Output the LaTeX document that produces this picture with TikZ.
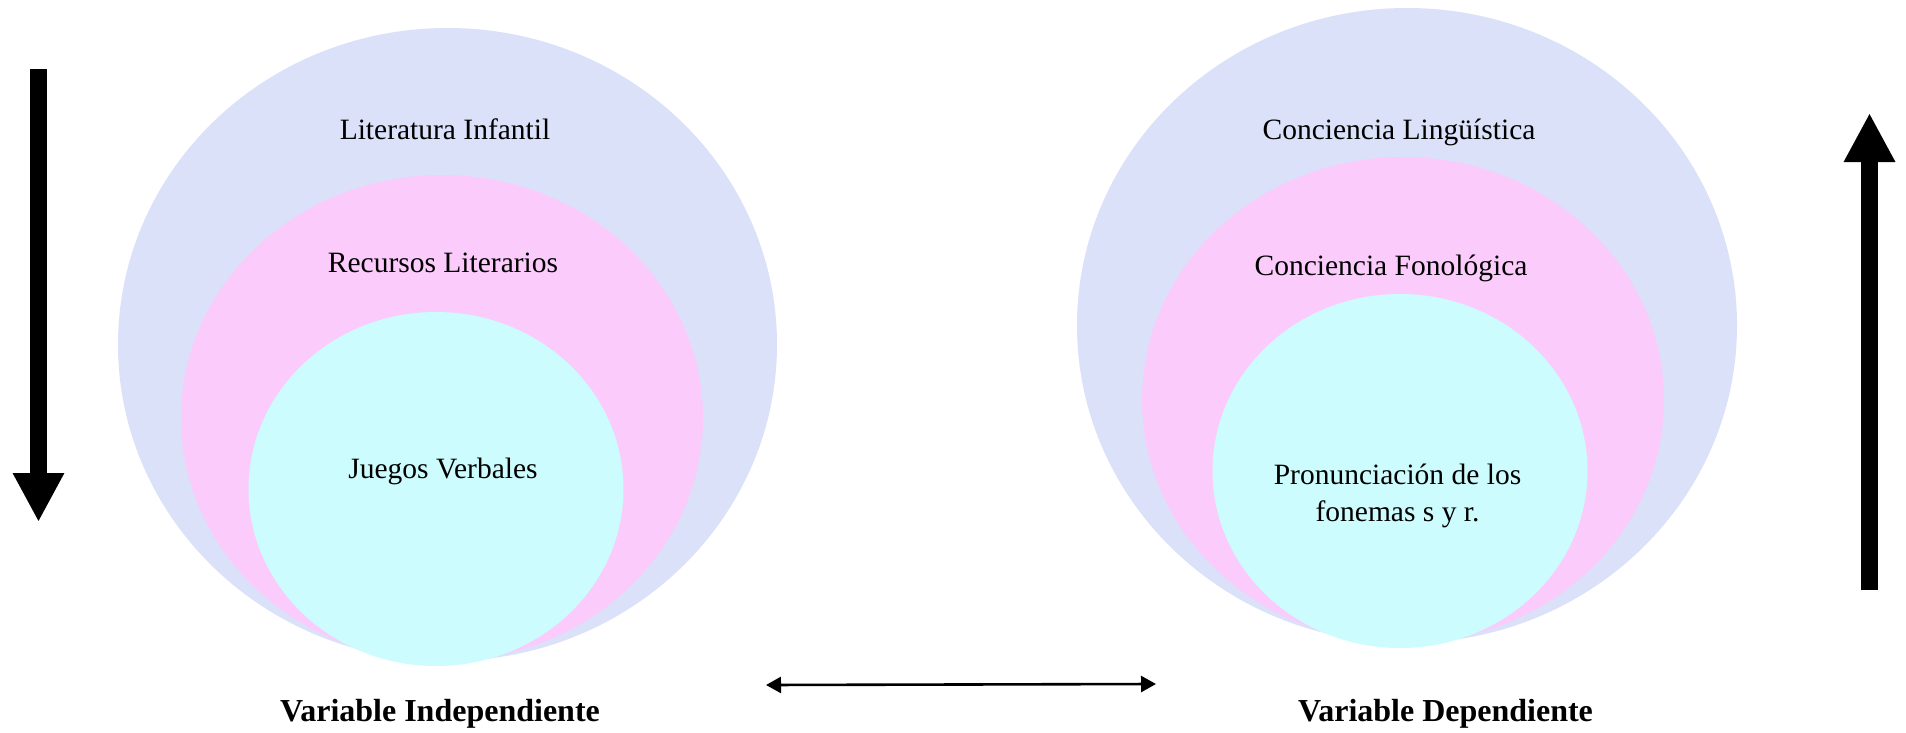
\documentclass[tikz,border=0pt]{standalone}
\usepackage{fontspec}
\setmainfont{Liberation Serif}
\usetikzlibrary{arrows.meta,shapes.geometric}
\definecolor{cblue}{HTML}{DAE1F8}
\definecolor{cpink}{HTML}{FBCCFB}
\definecolor{ccyan}{HTML}{CCFCFD}
\tikzset{
  ell/.style={ellipse, inner sep=0pt, draw=none},
  lbl/.style={anchor=base, inner sep=0pt, font=\fontsize{29.5}{37}\selectfont, align=center},
  vlbl/.style={anchor=base, inner sep=0pt, font=\fontsize{32}{38}\selectfont\bfseries},
  bigarrow/.style={line width=16.5pt, -{Triangle[width=48pt,length=49pt]}},
  dblarrow/.style={line width=2.6pt, {Triangle[width=16pt,length=15pt]}-{Triangle[width=16pt,length=15pt]}}
}
\begin{document}
\begin{tikzpicture}[x=1pt,y=-1pt]
\useasboundingbox (0,0) rectangle (1906,733);
% left group
\node[ell, fill=cblue, minimum width=659pt, minimum height=633pt] (L1) at (447.5,344.5) {};
\node[ell, fill=cpink, minimum width=522pt, minimum height=486pt] (L2) at (442,418) {};
\node[ell, fill=ccyan, minimum width=375pt, minimum height=354pt] (L3) at (436,489) {};
\node[lbl] (t1) at (445,139.3) {Literatura Infantil};
\node[lbl] (t2) at (443,272) {Recursos Literarios};
\node[lbl] (t3) at (443,478.6) {Juegos Verbales};
% right group
\node[ell, fill=cblue, minimum width=660pt, minimum height=635pt] (R1) at (1407,325.5) {};
\node[ell, fill=cpink, minimum width=522pt, minimum height=486pt] (R2) at (1403,400) {};
\node[ell, fill=ccyan, minimum width=375pt, minimum height=354pt] (R3) at (1400,471) {};
\node[lbl] (u1) at (1399,139.3) {Conciencia Lingüística};
\node[lbl] (u2) at (1391,275.4) {Conciencia Fonológica};
\node[lbl] (u3) at (1397.5,484.4) {Pronunciación de los};
\node[lbl] (u4) at (1397.5,521.4) {fonemas s y r.};
% bottom labels
\node[vlbl] (vi) at (440,721.7) {Variable Independiente};
\node[vlbl] (vd) at (1445.5,721.7) {Variable Dependiente};
% arrows
\coordinate (a1s) at (38.5,69);
\coordinate (a1e) at (38.5,522);
\draw[bigarrow] (a1s) -- (a1e);
\coordinate (a2s) at (1869.5,590);
\coordinate (a2e) at (1869.5,113);
\draw[bigarrow] (a2s) -- (a2e);
\coordinate (ds) at (766,685);
\coordinate (de) at (1156,684);
\draw[dblarrow] (ds) -- (de);
\end{tikzpicture}
\end{document}
